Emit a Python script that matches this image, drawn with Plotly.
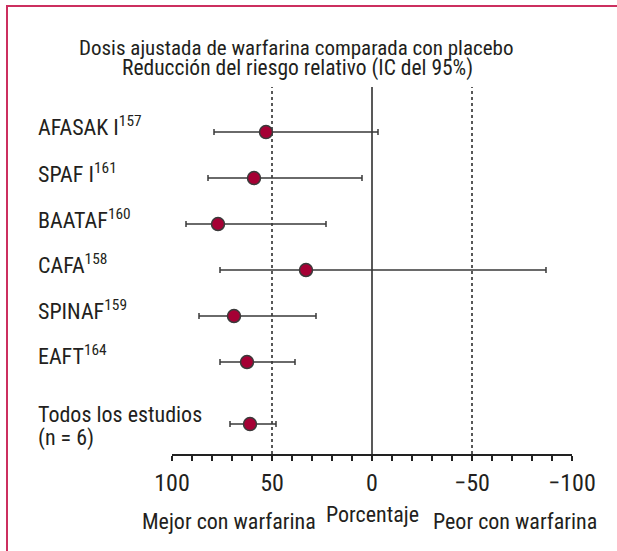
import plotly.graph_objects as go

studies = ["AFASAK I<sup>157</sup>", "SPAF I<sup>161</sup>", "BAATAF<sup>160</sup>",
           "CAFA<sup>158</sup>", "SPINAF<sup>159</sup>", "EAFT<sup>164</sup>",
           "Todos los estudios"]
rrr = [53, 59, 77, 33, 69, 62.5, 61]
ci_low = [-3, 5, 23, -87, 28, 38.5, 48]
ci_high = [79, 82, 93, 76, 86.5, 76, 71]
row_y = [6, 5, 4, 3, 2, 1, -0.35]
label_shift = [6, 5, 5, 6, 6, 7, 10]
tick_vals = [100, 50, 0, -50, -100]
tick_text = ["100", "50", "0", "\u221250", "\u2212100"]

FONT = "Liberation Sans Narrow, Roboto Condensed, Arial Narrow, sans-serif"
TXT = "#231f20"
LINE = "#3a3a3a"

# plot area in pixels: x 172..572, y 87..454
PL, PR, PT, PB = 172, 572, 87, 454


def px(p):
    return (p - PL) / (PR - PL)


def py(p):
    return (PB - p) / (PB - PT)


fig = go.Figure()
fig.add_trace(go.Scatter(
    x=rrr, y=row_y, mode="markers",
    marker=dict(size=13, color="#a50034", line=dict(color="#3a3a3a", width=1.5)),
    error_x=dict(type="data", symmetric=False,
                 array=[h - v for h, v in zip(ci_high, rrr)],
                 arrayminus=[v - l for v, l in zip(rrr, ci_low)],
                 color=LINE, thickness=1.5, width=3),
    showlegend=False, hoverinfo="skip"))

for xv, dash in [(50, "dot"), (-50, "dot"), (0, "solid")]:
    fig.add_shape(type="line", xref="x", yref="paper", x0=xv, x1=xv, y0=0, y1=1,
                  line=dict(color="#222", width=1.5, dash=dash), layer="below")

for s, yv, sh in zip(studies, row_y, label_shift):
    fig.add_annotation(text=s, xref="paper", yref="y", x=px(36), y=yv, yshift=sh,
                       xanchor="left", yanchor="middle", align="left", showarrow=False,
                       font=dict(size=22, color=TXT, family=FONT))
fig.add_annotation(text="(n = 6)", xref="paper", yref="y", x=px(36), y=row_y[-1], yshift=-14,
                   xanchor="left", yanchor="middle", align="left", showarrow=False,
                   font=dict(size=22, color=TXT, family=FONT))

fig.add_annotation(text="Dosis ajustada de warfarina comparada con placebo",
                   xref="paper", yref="paper", x=px(296), y=py(48),
                   xanchor="center", yanchor="middle", showarrow=False,
                   font=dict(size=21, color=TXT, family=FONT))
fig.add_annotation(text="Reducción del riesgo relativo (IC del 95%)",
                   xref="paper", yref="paper", x=px(297), y=py(68),
                   xanchor="center", yanchor="middle", showarrow=False,
                   font=dict(size=21.5, color=TXT, family=FONT))
fig.add_annotation(text="Mejor con warfarina", xref="paper", yref="paper", x=px(229), y=py(521),
                   xanchor="center", yanchor="middle", showarrow=False,
                   font=dict(size=22, color=TXT, family=FONT))
fig.add_annotation(text="Porcentaje", xref="paper", yref="paper", x=px(372), y=py(514),
                   xanchor="center", yanchor="middle", showarrow=False,
                   font=dict(size=22, color=TXT, family=FONT))
fig.add_annotation(text="Peor con warfarina", xref="paper", yref="paper", x=px(515), y=py(521),
                   xanchor="center", yanchor="middle", showarrow=False,
                   font=dict(size=22, color=TXT, family=FONT))

# figure border (top and left edges visible)
fig.add_shape(type="rect", xref="paper", yref="paper",
              x0=px(7), x1=1.3, y0=-0.4, y1=py(6),
              line=dict(color="#cc2f5f", width=2), layer="below")

fig.update_layout(
    width=617, height=551,
    margin=dict(l=PL, r=617 - PR, t=PT, b=551 - PB),
    paper_bgcolor="white", plot_bgcolor="white",
    font=dict(family=FONT, color=TXT, size=22),
    xaxis=dict(range=[100, -100], tickvals=tick_vals, ticktext=tick_text,
               showgrid=False, zeroline=False, showline=True, linecolor="#222", linewidth=1.5,
               ticks="outside", ticklen=5, tickwidth=1.5, tickcolor="#222",
               ticklabelstandoff=1,
               minor=dict(dtick=10, ticks="outside", ticklen=5, tickwidth=1.5, tickcolor="#222"),
               tickfont=dict(size=24, family=FONT, color=TXT), fixedrange=True),
    yaxis=dict(range=[-1.0, 6.98], visible=False, fixedrange=True),
)

fig.write_html("out.html", post_script="document.body.style.margin='0px';",
               config={"displayModeBar": False})
